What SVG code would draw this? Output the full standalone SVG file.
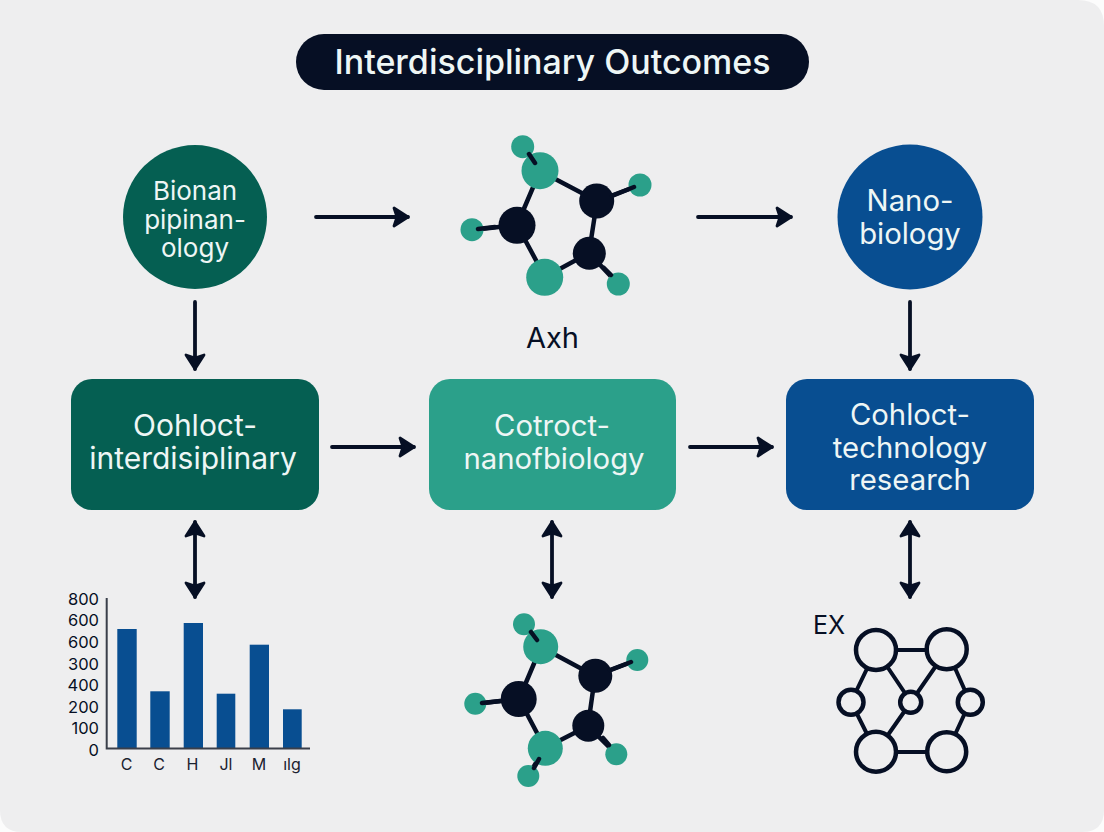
<svg xmlns="http://www.w3.org/2000/svg" width="1104" height="832" viewBox="0 0 1104 832">
<style>
text{font-family:Inter,"Liberation Sans",sans-serif}
.w{fill:#eef6f5;text-anchor:middle}
.d{fill:#060f24}
.g{fill:#055f52}.t{fill:#2ba08a}.b{fill:#084e91}
.k{fill:#060f24}
.bond{stroke:#060f24;stroke-width:4.5;stroke-linecap:round;fill:none}
.net{stroke:#060f24;stroke-width:4;fill:none}
.ring{stroke:#060f24;stroke-width:4.5;fill:#eeeeef}
.con{stroke:#060f24;stroke-width:3.8;stroke-linecap:round;fill:none;marker-end:url(#a)}
.two{marker-start:url(#a)}
.ax{stroke:#3a3f4a;stroke-width:2;fill:none}
.yl{font-size:16.500px;text-anchor:end;fill:#060f24}
.xl{font-size:16px;text-anchor:middle;fill:#1b2230}
.n{font-size:29.300px}
</style>
<defs>
<marker id="a" markerUnits="userSpaceOnUse" markerWidth="26" markerHeight="28" refX="21" refY="14" orient="auto-start-reverse">
<path d="M7 5 L21 14 L7 23 L10 14 Z" fill="#060f24" stroke="#060f24" stroke-width="2.800" stroke-linejoin="round"/>
</marker>
</defs>
<rect width="1104" height="832" fill="#fcfcfc"/>
<path d="M0 0H1078Q1104 0 1104 26V810Q1104 832 1082 832H22Q0 832 0 810Z" fill="#eeeeef"/>
<g id="title"><rect x="296" y="34" width="513" height="56" rx="28" class="k"/><text x="552.500" y="74" class="w" font-size="34" font-weight="500">Interdisciplinary Outcomes</text></g>
<g id="connectors">
<path class="con" d="M316 217H408"/><path class="con" d="M698 217H791"/>
<path class="con" d="M332 447H414"/><path class="con" d="M690 447H772"/>
<path class="con" d="M195 302V369"/><path class="con" d="M910 302V369"/>
<path class="con two" d="M195 522V597"/><path class="con two" d="M552 522V597"/><path class="con two" d="M910 522V597"/>
</g>
<g id="node-bionan"><circle cx="195" cy="217" r="72" class="g"/><text class="w" font-size="26"><tspan x="195" y="200">Bionan</tspan><tspan x="195" y="229">pipinan-</tspan><tspan x="195" y="257">ology</tspan></text></g>
<g id="node-nano"><circle cx="910" cy="217" r="72.500" class="b"/><text class="w n"><tspan x="910" y="211">Nano-</tspan><tspan x="910" y="244">biology</tspan></text></g>
<g id="molecule-top">
<path class="bond" d="M523 147L540 171L597 201L589 253L618 284M597 201L640 185M589 253L545 277L517 225L540 171M517 225L472 230"/>
<g class="t"><circle cx="522.700" cy="146.700" r="11.500"/><circle cx="640" cy="185" r="11.500"/><circle cx="618.300" cy="284" r="11.500"/><circle cx="472" cy="229.700" r="11.500"/><circle cx="540" cy="170.700" r="18.500"/><circle cx="544.700" cy="277.300" r="18.500"/></g>
<g class="k"><circle cx="596.700" cy="201" r="17.500"/><circle cx="589.300" cy="253.300" r="16.500"/><circle cx="517" cy="225.300" r="18.500"/></g>
<path class="bond" d="M529 154L535 163M634 187L612 196M611 275L604 268M478 229L495 227"/>
</g>
<g id="label-axh"><text x="552.500" y="348" font-size="29" text-anchor="middle" class="d">Axh</text></g>
<g id="node-interdisciplinary"><rect x="71" y="379" width="248" height="131" rx="21" class="g"/><text class="w" font-size="30"><tspan x="195" y="436">Oohloct-</tspan><tspan x="193" y="469">interdisiplinary</tspan></text></g>
<g id="node-nanobiology"><rect x="429" y="379" width="247" height="131" rx="21" class="t"/><text class="w n"><tspan x="552" y="436">Cotroct-</tspan><tspan x="554" y="469">nanofbiology</tspan></text></g>
<g id="node-technology"><rect x="786" y="379" width="248" height="131" rx="21" class="b"/><text class="w n"><tspan x="910" y="425">Cohloct-</tspan><tspan x="910" y="458">technology</tspan><tspan x="910" y="490">research</tspan></text></g>
<g id="chart">
<g class="b"><rect x="117.300" y="629" width="19.400" height="119"/><rect x="150.300" y="691.300" width="19.400" height="56.700"/><rect x="183.700" y="623" width="19.300" height="125"/><rect x="216.700" y="693.700" width="18.600" height="54.300"/><rect x="249.700" y="644.700" width="19.300" height="103.300"/><rect x="283" y="709.300" width="18.700" height="38.700"/></g>
<path class="ax" d="M106.700 598V748.500H310"/>
<text class="yl" x="99" y="605">800</text><text class="yl" x="99" y="626">600</text><text class="yl" x="99" y="647.500">600</text><text class="yl" x="99" y="669.500">300</text><text class="yl" x="99" y="691">400</text><text class="yl" x="99" y="712.500">200</text><text class="yl" x="99" y="734">100</text><text class="yl" x="99" y="755.500">0</text>
<text class="xl" x="126.500" y="770">C</text><text class="xl" x="159" y="770">C</text><text class="xl" x="192.500" y="770">H</text><text class="xl" x="226" y="770">Jl</text><text class="xl" x="259" y="770">M</text><text class="xl" x="292" y="770">ılg</text>
</g>
<g id="molecule-bottom">
<path class="bond" d="M524 624L541 647L595 676L588 726L616 754M595 676L637 660M588 726L545 748L519 699L541 647M519 699L475 704M545 748L528 776"/>
<g class="t"><circle cx="524" cy="624.300" r="11"/><circle cx="637.300" cy="660" r="11"/><circle cx="616.300" cy="754.300" r="11"/><circle cx="475.300" cy="703.700" r="11"/><circle cx="528.300" cy="776" r="11"/><circle cx="540.700" cy="646.700" r="17.500"/><circle cx="545.300" cy="748.300" r="17.500"/></g>
<g class="k"><circle cx="595.300" cy="675.700" r="17"/><circle cx="588.300" cy="725.700" r="16"/><circle cx="518.700" cy="699" r="18"/></g>
<path class="bond" d="M531 632L537 640M631 662L610 670M609 745L603 738M482 703L500 701M539 759L534 768"/>
</g>
<g id="network">
<text x="813" y="634" font-size="25" class="d">EX</text>
<path class="net" d="M876 650H947M876 650L911 702L947 650M876 752L911 702M876 752H947M876 650L851 702L876 752M947 650L970 702L947 752"/>
<g class="ring"><circle cx="876" cy="650" r="20"/><circle cx="946.700" cy="649.300" r="20"/><circle cx="851" cy="702.300" r="12.500"/><circle cx="910.700" cy="702.300" r="10.500"/><circle cx="970.300" cy="702.300" r="12.500"/><circle cx="876" cy="751.700" r="20"/><circle cx="946.700" cy="751.700" r="19.500"/></g>
</g>
</svg>
